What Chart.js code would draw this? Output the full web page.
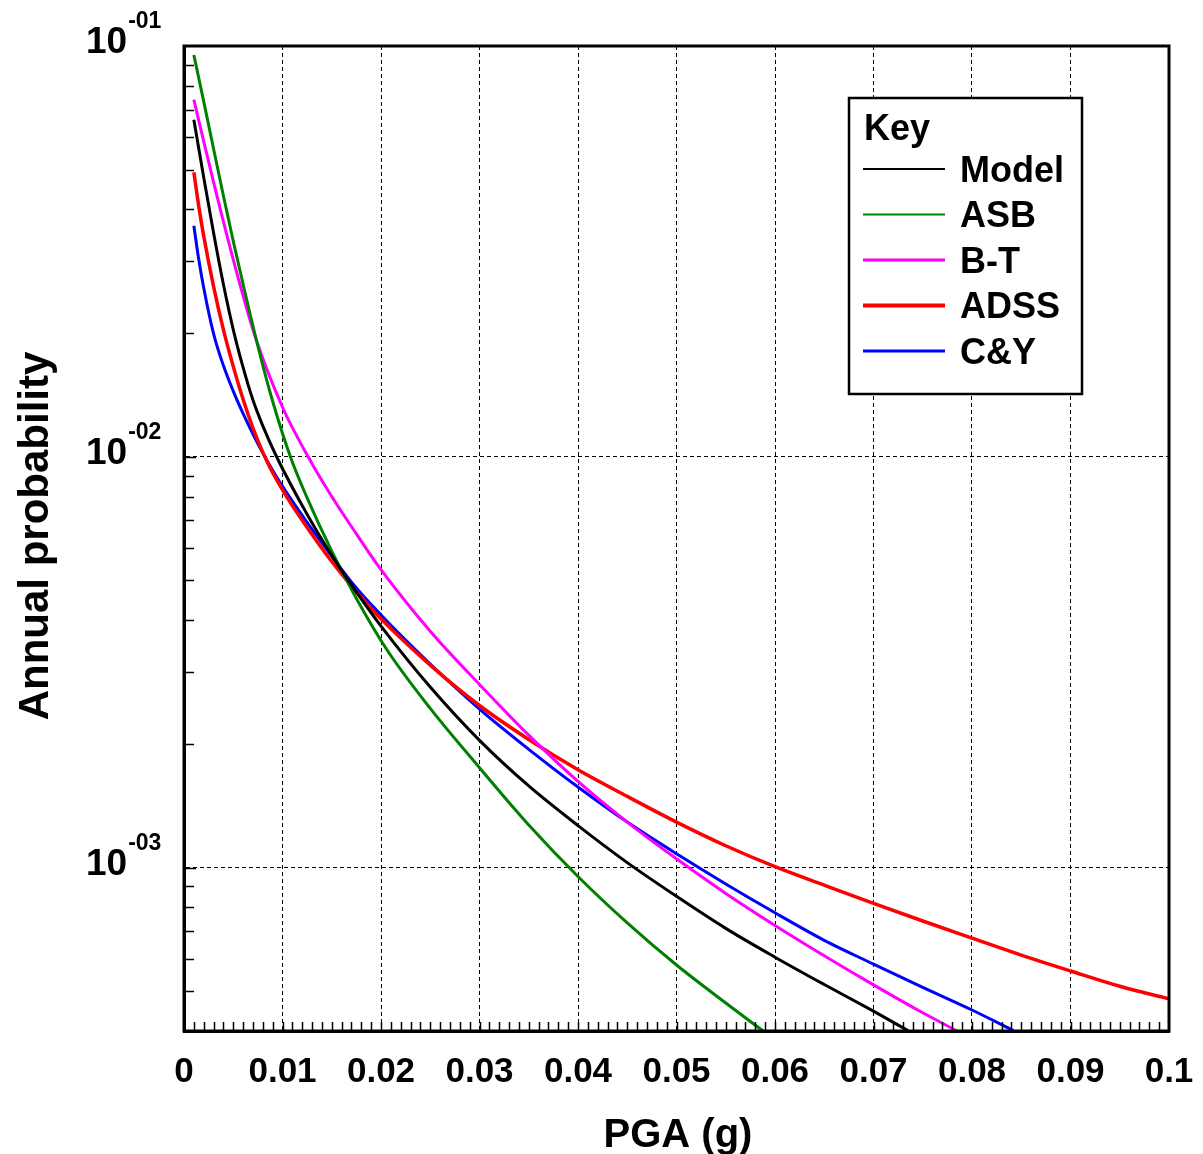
<!DOCTYPE html>
<html>

<head>
    <title>Annual probability vs PGA</title>
    <meta charset="utf-8" />
    <style>
        body { margin: 0; background: #fff; }
        canvas { display: block; }
    </style>
</head>

<body>
    <canvas id="hazardChart" width="1203" height="1154"></canvas>

    <script src="https://cdn.jsdelivr.net/npm/chart.js"></script>
    <script type="text/javascript">
        // PGA values (g) and annual probabilities
        const modelX = [0.001, 0.002, 0.003, 0.004, 0.005, 0.006, 0.007, 0.008, 0.0094, 0.0125, 0.015, 0.0176, 0.02, 0.025, 0.03, 0.035, 0.04, 0.045, 0.05, 0.055, 0.06, 0.065, 0.07, 0.0735];
        const modelY = [0.0661, 0.0479, 0.0351, 0.0263, 0.0204, 0.0165, 0.01374, 0.01189, 0.01, 0.00724, 0.00575, 0.00465, 0.00387, 0.00275, 0.00204, 0.00158, 0.001265, 0.001028, 0.000851, 0.000711, 0.000605, 0.000519, 0.000447, 0.000401];

        const asbX = [0.001, 0.002, 0.003, 0.004, 0.005, 0.006, 0.0075, 0.009, 0.0108, 0.0125, 0.015, 0.0175, 0.0206, 0.025, 0.03, 0.035, 0.04, 0.045, 0.05, 0.055, 0.0588];
        const asbY = [0.0951, 0.0733, 0.0562, 0.0432, 0.0335, 0.0263, 0.0186, 0.01365, 0.01, 0.00794, 0.00589, 0.00452, 0.00339, 0.00244, 0.00175, 0.00127, 0.000951, 0.000733, 0.000579, 0.000468, 0.0004];

        const btX = [0.001, 0.002, 0.003, 0.005, 0.0072, 0.01, 0.0126, 0.015, 0.0175, 0.02, 0.025, 0.03, 0.035, 0.04, 0.045, 0.05, 0.055, 0.06, 0.065, 0.07, 0.075, 0.0785];
        const btY = [0.074, 0.0586, 0.0466, 0.0302, 0.0197, 0.0132, 0.01, 0.008, 0.00649, 0.00531, 0.00376, 0.00279, 0.0021, 0.00162, 0.00129, 0.00105, 0.000865, 0.000723, 0.00061, 0.000518, 0.000443, 0.0004];

        const adssX = [0.001, 0.0015, 0.002, 0.003, 0.004, 0.005, 0.006, 0.007, 0.0085, 0.0105, 0.0125, 0.015, 0.0176, 0.02, 0.025, 0.03, 0.035, 0.04, 0.045, 0.05, 0.055, 0.06, 0.065, 0.07, 0.075, 0.08, 0.085, 0.09, 0.095, 0.1];
        const adssY = [0.0493, 0.0407, 0.0345, 0.026, 0.0204, 0.0166, 0.0138, 0.01175, 0.00966, 0.00794, 0.00673, 0.00556, 0.00466, 0.00403, 0.00311, 0.00248, 0.00205, 0.00173, 0.00149, 0.00129, 0.00113, 0.001005, 0.000906, 0.000818, 0.000741, 0.000673, 0.000612, 0.00056, 0.000514, 0.000479];

        const cyX = [0.001, 0.0015, 0.002, 0.003, 0.004, 0.005, 0.006, 0.0075, 0.0085, 0.01, 0.0125, 0.015, 0.0175, 0.02, 0.025, 0.03, 0.035, 0.04, 0.045, 0.05, 0.055, 0.06, 0.065, 0.07, 0.075, 0.08, 0.0842];
        const cyY = [0.0365, 0.0302, 0.0258, 0.01995, 0.01667, 0.01445, 0.01274, 0.01076, 0.00973, 0.00847, 0.00692, 0.00573, 0.00479, 0.00412, 0.00313, 0.00243, 0.00194, 0.00157, 0.00129, 0.00108, 0.000912, 0.000776, 0.000665, 0.000582, 0.000511, 0.00045, 0.000401];

        const seriesNames = ['Model', 'ASB', 'B-T', 'ADSS', 'C&Y'];
        const seriesColors = ['#000000', '#008000', '#ff00ff', '#ff0000', '#0000ff'];
        const seriesWidths = [3, 3, 3, 3.5, 3];
        const keyWidths = [2, 2, 3, 4, 3];

        // axis ticks
        const xTicks = [0, 0.01, 0.02, 0.03, 0.04, 0.05, 0.06, 0.07, 0.08, 0.09, 0.1];
        const xTickLabels = ['0', '0.01', '0.02', '0.03', '0.04', '0.05', '0.06', '0.07', '0.08', '0.09', '0.1'];
        const yDecades = [0.1, 0.01, 0.001];
        const yExponents = ['-01', '-02', '-03'];

        const FONT = '"Liberation Sans", Arial, sans-serif';

        function toPoints(xs, ys) {
            return xs.map((x, i) => ({ x: x, y: ys[i] }));
        }

        const allX = [modelX, asbX, btX, adssX, cyX];
        const allY = [modelY, asbY, btY, adssY, cyY];

        const datasets = seriesNames.map((name, i) => ({
            label: name,
            data: toPoints(allX[i], allY[i]),
            borderColor: seriesColors[i],
            backgroundColor: seriesColors[i],
            borderWidth: seriesWidths[i],
            pointRadius: 0,
            cubicInterpolationMode: 'monotone',
            fill: false
        }));

        // frame, minor ticks, tick labels, axis titles and key box
        const decorations = {
            id: 'decorations',
            afterDraw(chart) {
                const ctx = chart.ctx;
                const area = chart.chartArea;
                const xs = chart.scales.x;
                const ys = chart.scales.y;

                ctx.save();
                ctx.strokeStyle = '#000';

                // minor ticks along the bottom, every 0.001
                ctx.lineWidth = 1.5;
                ctx.beginPath();
                for (let k = 1; k < 100; k++) {
                    const px = Math.round(xs.getPixelForValue(k / 1000)) + 0.5;
                    ctx.moveTo(px, area.bottom);
                    ctx.lineTo(px, area.bottom - 9);
                }
                ctx.stroke();

                // minor ticks along the left side
                ctx.beginPath();
                [0.0001, 0.001, 0.01].forEach((d) => {
                    for (let m = 1; m <= 9; m++) {
                        const v = d * m;
                        if (v < ys.min - 1e-12 || v > ys.max + 1e-12) continue;
                        const py = Math.round(ys.getPixelForValue(v)) + 0.5;
                        ctx.moveTo(area.left, py);
                        ctx.lineTo(area.left + (m === 1 ? 12 : 10), py);
                    }
                });
                ctx.stroke();

                // frame
                ctx.lineWidth = 3;
                ctx.strokeRect(area.left, area.top, area.right - area.left, area.bottom - area.top);

                // x tick labels
                ctx.fillStyle = '#000';
                ctx.font = 'bold 35px ' + FONT;
                ctx.textAlign = 'center';
                ctx.textBaseline = 'alphabetic';
                xTicks.forEach((v, i) => {
                    ctx.fillText(xTickLabels[i], xs.getPixelForValue(v), 1082);
                });

                // y tick labels: 10 with exponent
                ctx.textAlign = 'left';
                yDecades.forEach((v, i) => {
                    const py = ys.getPixelForValue(v);
                    ctx.font = 'bold 37px ' + FONT;
                    ctx.fillText('10', 86, py + 7);
                    const w = ctx.measureText('10').width;
                    ctx.font = 'bold 23px ' + FONT;
                    ctx.fillText(yExponents[i], 86 + w + 1, py - 18);
                });

                // axis titles
                ctx.font = 'bold 40px ' + FONT;
                ctx.textAlign = 'center';
                ctx.fillText('PGA (g)', 678, 1147);

                ctx.save();
                ctx.translate(48, 536);
                ctx.rotate(-Math.PI / 2);
                ctx.font = 'bold 42px ' + FONT;
                ctx.fillText('Annual probability', 0, 0);
                ctx.restore();

                // key box
                const bx = 849, by = 98, bw = 233, bh = 296;
                ctx.fillStyle = '#fff';
                ctx.fillRect(bx, by, bw, bh);
                ctx.lineWidth = 2.5;
                ctx.strokeStyle = '#000';
                ctx.strokeRect(bx, by, bw, bh);

                ctx.fillStyle = '#000';
                ctx.textAlign = 'left';
                ctx.font = 'bold 36px ' + FONT;
                ctx.fillText('Key', 864, 140);

                chart.data.datasets.forEach((ds, i) => {
                    const ly = 169 + i * 45.5;
                    ctx.strokeStyle = ds.borderColor;
                    ctx.lineWidth = keyWidths[i];
                    ctx.beginPath();
                    ctx.moveTo(863, ly);
                    ctx.lineTo(945, ly);
                    ctx.stroke();
                    ctx.fillStyle = '#000';
                    ctx.textBaseline = 'middle';
                    ctx.fillText(ds.label, 960, ly + 3);
                });

                ctx.restore();
            }
        };

        new Chart(document.getElementById('hazardChart'), {
            type: 'line',
            data: { datasets: datasets },
            options: {
                responsive: false,
                devicePixelRatio: 1,
                animation: false,
                layout: {
                    padding: { left: 184, top: 46, right: 34, bottom: 123 }
                },
                plugins: {
                    legend: { display: false },
                    tooltip: { enabled: false },
                    title: { display: false }
                },
                scales: {
                    x: {
                        type: 'linear',
                        min: 0,
                        max: 0.1,
                        ticks: { display: false, stepSize: 0.01 },
                        grid: { color: '#000', lineWidth: 1, drawTicks: false },
                        border: { display: true, color: '#000', width: 3, dash: [4, 3] }
                    },
                    y: {
                        type: 'logarithmic',
                        min: 0.0004,
                        max: 0.1,
                        afterBuildTicks: (scale) => {
                            scale.ticks = yDecades.map((v) => ({ value: v }));
                        },
                        ticks: { display: false },
                        grid: { color: '#000', lineWidth: 1, drawTicks: false },
                        border: { display: true, color: '#000', width: 3, dash: [4, 3] }
                    }
                }
            },
            plugins: [decorations]
        });
    </script>
</body>

</html>
